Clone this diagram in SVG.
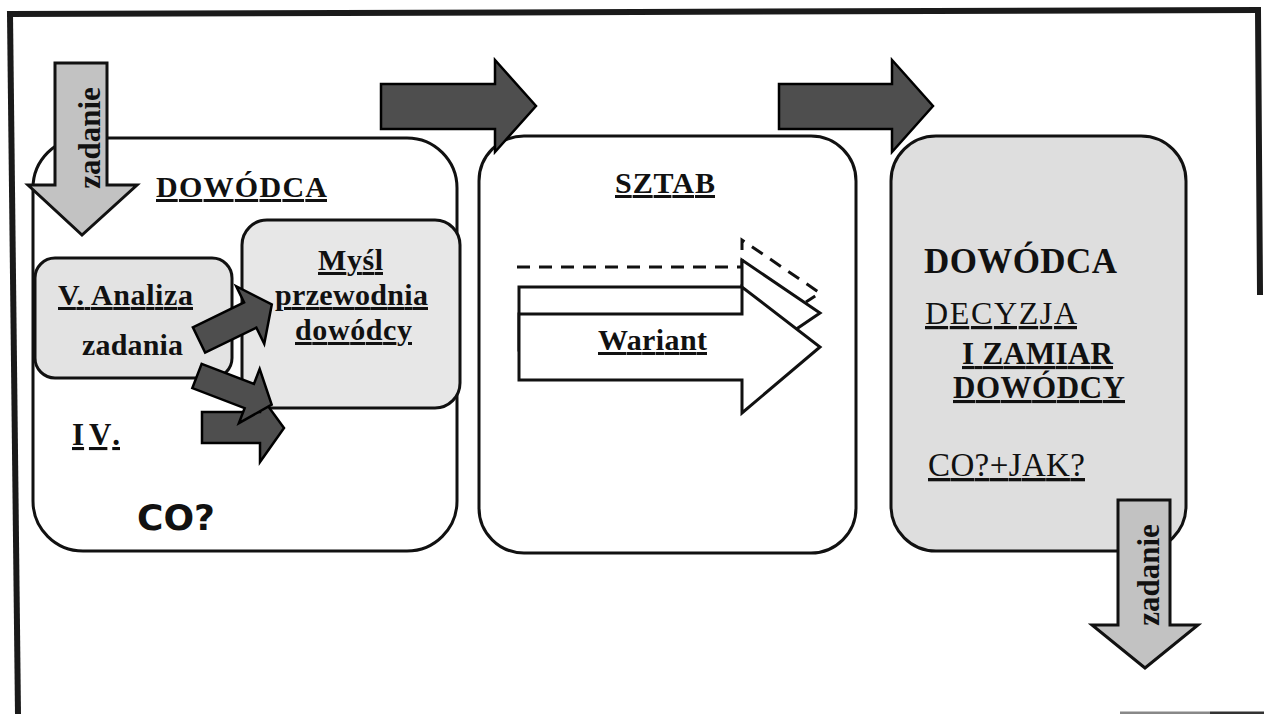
<svg xmlns="http://www.w3.org/2000/svg" width="1264" height="714" viewBox="0 0 1264 714">
<style>
  .frame{fill:none;stroke:#1a1a1a;stroke-width:6;stroke-linecap:square}
  .box{stroke:#111;stroke-width:3}
  .blk{fill:#4e4e4e;stroke:#000;stroke-width:2.5;stroke-linejoin:miter}
  .zad{fill:#c2c2c2;stroke:#111;stroke-width:3;stroke-linejoin:miter}
  .wa{fill:#fff;stroke:#111;stroke-width:3;stroke-linejoin:miter}
  .wd{fill:none;stroke:#111;stroke-width:3;stroke-dasharray:13 9}
  .t{font-family:"Liberation Serif","Times New Roman",serif;fill:#111}
  .b{font-weight:bold}
  .u{text-decoration:underline}
  .s{font-family:"DejaVu Sans",Verdana,sans-serif;font-weight:bold;fill:#111}
</style>
<rect x="0" y="0" width="1264" height="714" fill="#fff"/>

<g id="frame">
  <line class="frame" x1="10" y1="14" x2="1257" y2="10"/>
  <line class="frame" x1="10" y1="14" x2="18" y2="714"/>
  <line class="frame" x1="1258" y1="10" x2="1260" y2="292" stroke-width="5"/>
  <line x1="1120" y1="713" x2="1210" y2="713" stroke="#888" stroke-width="3"/>
  <line x1="1210" y1="713" x2="1264" y2="713" stroke="#333" stroke-width="3"/>
</g>

<g id="dowodca-box">
  <rect class="box" x="33" y="138" width="424" height="413" rx="50" ry="50" fill="#fff"/>
  <text class="t b u" x="156" y="197" font-size="30" textLength="171" lengthAdjust="spacing">DOWÓDCA</text>
  <text class="t b u" x="72" y="445" font-size="31" textLength="48" lengthAdjust="spacing">IV.</text>
  <text class="s" x="137" y="530" font-size="35" textLength="78" lengthAdjust="spacingAndGlyphs">CO?</text>
</g>

<g id="analiza">
  <rect class="box" x="35" y="258" width="197" height="120" rx="20" ry="20" fill="#e3e3e3"/>
  <text class="t b u" x="58" y="305" font-size="30" textLength="135" lengthAdjust="spacing">V. Analiza</text>
  <text class="t b" x="82" y="355" font-size="30" textLength="101" lengthAdjust="spacing">zadania</text>
</g>

<g id="mysl">
  <rect class="box" x="242" y="220" width="218" height="188" rx="25" ry="25" fill="#e7e7e7"/>
  <text class="t b u" x="318" y="270" font-size="30" textLength="65" lengthAdjust="spacing">Myśl</text>
  <text class="t b u" x="275" y="305" font-size="30" textLength="153" lengthAdjust="spacing">przewodnia</text>
  <text class="t b u" x="295" y="340" font-size="30" textLength="117" lengthAdjust="spacing">dowódcy</text>
</g>

<g id="sztab">
  <rect class="box" x="479" y="136" width="377" height="417" rx="45" ry="45" fill="#fff"/>
  <text class="t b u" x="615" y="193" font-size="30" textLength="100" lengthAdjust="spacing">SZTAB</text>
  <g id="warianty">
    <polyline class="wd" points="517,267 742,267 742,240 820,293 806,302"/>
    <polygon class="wa" points="519,287 742,287 742,260 820,313 742,366 742,350 519,350"/>
    <polygon class="wa" points="519,314 742,314 742,287 820,347 742,413 742,380 519,380"/>
    <text class="t b u" x="598" y="350" font-size="30" textLength="109" lengthAdjust="spacing">Wariant</text>
  </g>
</g>

<g id="decyzja-box">
  <rect class="box" x="891" y="136" width="295" height="415" rx="45" ry="45" fill="#dedede"/>
  <text class="t b" x="924" y="273" font-size="35" textLength="193" lengthAdjust="spacing">DOWÓDCA</text>
  <text class="t u" x="925" y="324" font-size="32" textLength="152" lengthAdjust="spacing">DECYZJA</text>
  <text class="t b u" x="962" y="364" font-size="31" textLength="151" lengthAdjust="spacing">I ZAMIAR</text>
  <text class="t b u" x="953" y="398" font-size="31" textLength="172" lengthAdjust="spacing">DOWÓDCY</text>
  <text class="t u" x="928" y="476" font-size="33" textLength="157" lengthAdjust="spacing">CO?+JAK?</text>
</g>

<g id="connectors">
  <g id="zadanie-in">
    <polygon class="zad" points="55,63 107,63 107,185 137,185 82,235 28,185 55,185"/>
    <text class="t b" transform="translate(100,138) rotate(-90)" font-size="31" text-anchor="middle">zadanie</text>
  </g>
  <polygon id="arrow-to-sztab" class="blk" points="381,84 495,84 495,60 536,106 495,152 495,129 381,129"/>
  <polygon id="arrow-to-decyzja" class="blk" points="779,84 892,84 892,60 933,106 892,152 892,129 779,129"/>
  <polygon id="arrow-3" class="blk" points="202,412 260,412 260,395 284,428 260,462 260,443 202,443"/>
  <polygon id="arrow-2" class="blk" transform="translate(197,376) rotate(21)" points="0,-13 56,-13 56,-29 80,0 56,29 56,13 0,13"/>
  <polygon id="arrow-1" class="blk" transform="translate(199,340) rotate(-26)" points="0,-14 57,-14 57,-32 81,0 57,32 57,14 0,14"/>
  <g id="zadanie-out">
    <polygon class="zad" points="1118,500 1170,500 1170,625 1198,625 1145,668 1092,625 1118,625"/>
    <text class="t b" transform="translate(1159,575) rotate(-90)" font-size="31" text-anchor="middle">zadanie</text>
  </g>
</g>
</svg>
